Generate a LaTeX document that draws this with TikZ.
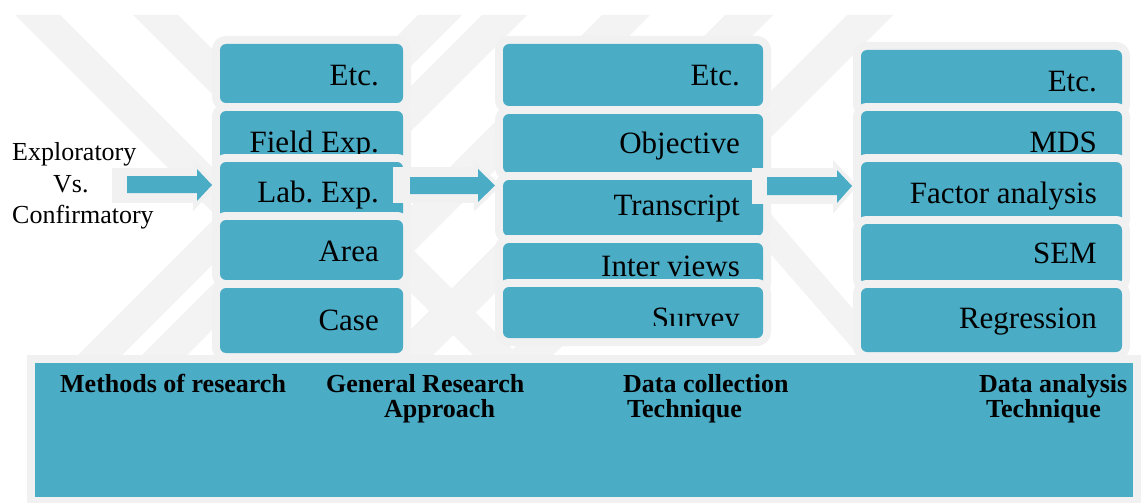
\documentclass[tikz,border=0pt]{standalone}
\usepackage{fontspec}
\setmainfont{Liberation Serif}
\frenchspacing
\definecolor{tblue}{HTML}{4BACC6}
\definecolor{ol}{HTML}{F1F1F1}
\definecolor{wm}{HTML}{F3F3F3}
\tikzset{
  box/.style={rectangle, rounded corners=6pt, fill=tblue, inner sep=0pt, outer sep=0pt,
    preaction={draw=ol, line width=16pt, line join=round}},
  basebox/.style={rectangle, fill=tblue, inner sep=0pt, outer sep=0pt,
    preaction={draw=ol, line width=16pt, line join=miter}},
  lbl/.style={anchor=base east, inner sep=0pt, font=\fontsize{31}{31}\selectfont},
  side/.style={anchor=base west, inner sep=0pt, font=\fontsize{26}{26}\selectfont},
  headtxt/.style={anchor=base west, inner sep=0pt, font=\fontsize{26}{26}\selectfont\bfseries},
  band/.style={fill=wm},
  arrbody/.style={fill=tblue, preaction={draw=ol, line width=8pt, line join=miter}},
  halo/.style={fill=ol},
}
\newcommand\mkbox[5]{%
  \node[box, minimum width={#4-#2}, minimum height={#5-#3}] (#1) at ({(#2+#4)/2},{(#3+#5)/2}) {};}
\begin{document}
\begin{tikzpicture}[x=1pt,y=-1pt]
\useasboundingbox (0,0) rectangle (1141,503);
\fill[white] (0,0) rectangle (1141,503);
% watermark
\fill[band] (15,15) -- (60,15) -- (400,355) -- (355,355) -- cycle;
\fill[band] (133,15) -- (178,15) -- (518,355) -- (473,355) -- cycle;
\fill[band] (418,15) -- (462,15) -- (122,355) -- (78,355) -- cycle;
\fill[band] (482,15) -- (527,15) -- (187,355) -- (142,355) -- cycle;
\fill[band] (602,15) -- (650,15) -- (310,355) -- (262,355) -- cycle;
\fill[band] (725,15) -- (773,15) -- (433,355) -- (385,355) -- cycle;
\fill[band] (847,15) -- (893,15) -- (553,355) -- (507,355) -- cycle;
\fill[band] (690,121) -- (880,340) -- (880,380) -- (690,161) -- cycle;
% bottom panel
\node[basebox, minimum width=1098, minimum height=134] (base) at (584,430) {};
\node[headtxt] (h1) at (60,392) {Methods of research};
\node[headtxt] (h2a) at (326,392) {General Research};
\node[headtxt] (h2b) at (384,417) {Approach};
\node[headtxt] (h3a) at (623,392) {Data collection};
\node[headtxt] (h3b) at (627,417) {Technique};
\node[headtxt] (h4a) at (979,392) {Data analysis};
\node[headtxt] (h4b) at (986,417) {Technique};
% column 1
\mkbox{c1a}{220}{44}{403}{103}   \node[lbl] (t1a) at (379,85.5) {Etc.};
\mkbox{c1b}{220}{111}{403}{175}  \node[lbl] (t1b) at (379,152.5) {Field Exp.};
\mkbox{c1c}{220}{162}{403}{225}  \node[lbl] (t1c) at (379,202.5) {Lab. Exp.};
\mkbox{c1d}{220}{220}{403}{280}  \node[lbl] (t1d) at (379,261) {Area};
\mkbox{c1e}{220}{288}{403}{353}  \node[lbl] (t1e) at (379,330) {Case};
% column 2
\mkbox{c2a}{503}{44}{763}{106}   \node[lbl] (t2a) at (740,85.5) {Etc.};
\mkbox{c2b}{503}{114}{763}{173}  \node[lbl] (t2b) at (740,153) {Objective};
\mkbox{c2c}{503}{180}{763}{236}  \node[lbl] (t2c) at (740,215.5) {Transcript};
\mkbox{c2d}{503}{243}{763}{290}  \node[lbl] (t2d) at (740,276) {Inter views};
\mkbox{c2e}{503}{287}{763}{338}
\begin{scope}
  \clip (503,287) rectangle (763,325);
  \node[lbl] (t2e) at (740,328) {Survey};
\end{scope}
% column 3
\mkbox{c3a}{861}{50}{1122}{110}  \node[lbl] (t3a) at (1097,92) {Etc.};
\mkbox{c3b}{861}{111}{1122}{170} \node[lbl] (t3b) at (1097,152.5) {MDS};
\mkbox{c3c}{861}{162}{1122}{225} \node[lbl] (t3c) at (1097,203.5) {Factor analysis};
\mkbox{c3d}{861}{224}{1122}{285} \node[lbl] (t3d) at (1097,263.5) {SEM};
\mkbox{c3e}{861}{288}{1122}{352} \node[lbl] (t3e) at (1097,328.5) {Regression};
% side text
\node[side] (s1) at (12,160) {Exploratory};
\node[side] (s2) at (53,192) {Vs.};
\node[side] (s3) at (12,223) {Confirmatory};
% arrows
\fill[halo] (112,168) rectangle (197,203);
\path[arrbody] (127,176) -- (197,176) -- (197,169) -- (212,185) -- (197,201) -- (197,193) -- (127,193) -- cycle;
\fill[halo] (393,167) rectangle (478,203);
\path[arrbody] (410,177) -- (478,177) -- (478,169) -- (495,185.5) -- (478,202) -- (478,194) -- (410,194) -- cycle;
\fill[halo] (752,168) rectangle (837,204);
\path[arrbody] (767,177) -- (837,177) -- (837,170) -- (852,186) -- (837,203) -- (837,195) -- (767,195) -- cycle;
\end{tikzpicture}
\end{document}
